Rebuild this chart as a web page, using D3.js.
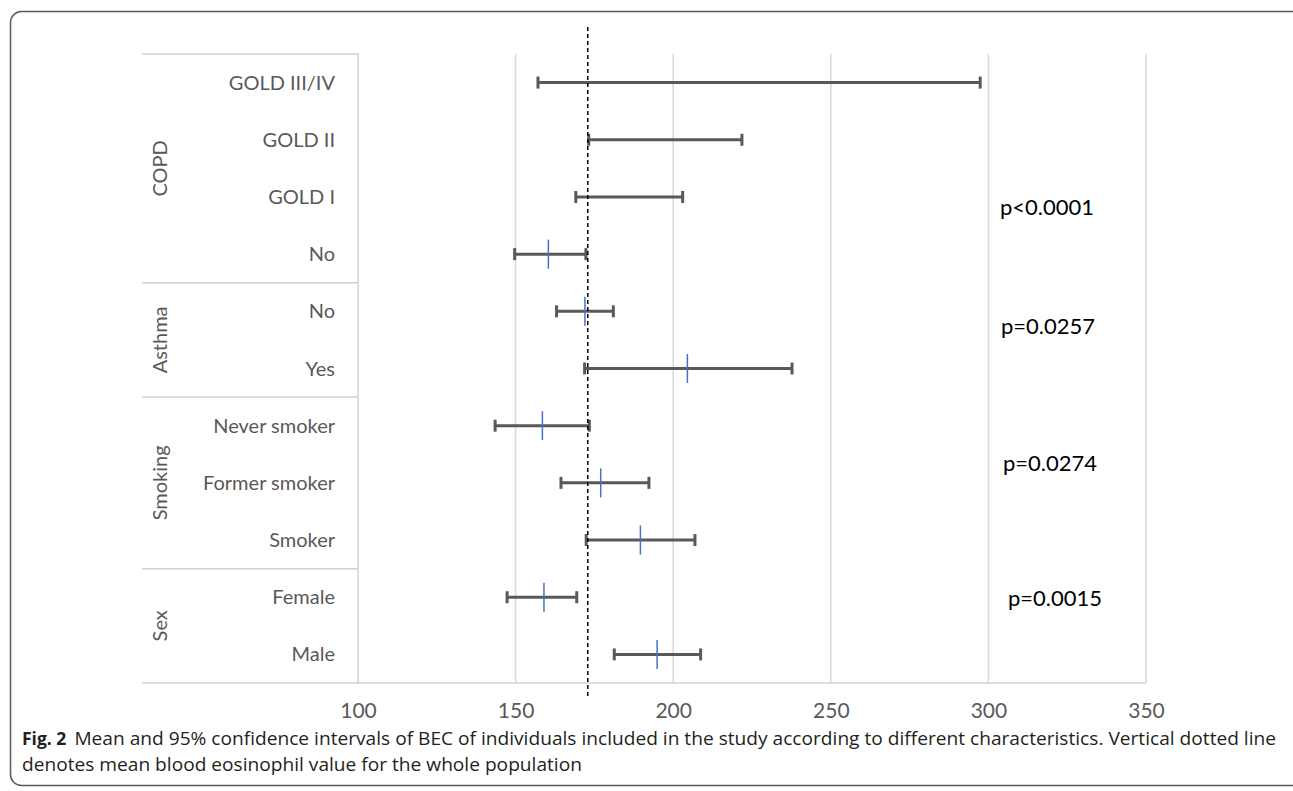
<!DOCTYPE html>
<html>
<head>
<meta charset="utf-8">
<script src="https://cdn.jsdelivr.net/npm/d3@7"></script>
<style>
  body { margin: 0; background: #fff; }
  svg { display: block; }
</style>
</head>
<body>
<svg id="grafico" width="1293" height="791"></svg>
<script>
// Dados (IC 95% e média de eosinófilos por característica)
const categorias = ["GOLD III/IV", "GOLD II", "GOLD I", "No", "No", "Yes", "Never smoker", "Former smoker", "Smoker", "Female", "Male"];
const grupoDaCategoria = ["COPD", "COPD", "COPD", "COPD", "Asthma", "Asthma", "Smoking", "Smoking", "Smoking", "Sex", "Sex"];
const grupos = ["COPD", "Asthma", "Smoking", "Sex"];
const limiteInferior = [157.1, 173.2, 169.1, 149.7, 163.0, 171.9, 143.5, 164.4, 172.4, 147.3, 181.3];
const limiteSuperior = [297.4, 221.8, 203.0, 172.3, 181.0, 237.7, 173.4, 192.3, 206.9, 169.4, 208.7];
const media = [null, null, null, 160.4, 172.0, 204.5, 158.5, 177.0, 189.6, 159.0, 194.9];
const mediaGeral = 172.9;
const pValores = ["p<0.0001", "p=0.0257", "p=0.0274", "p=0.0015"];
const ticksX = [100, 150, 200, 250, 300, 350];

const legenda1 = "Mean and 95% confidence intervals of BEC of individuals included in the study according to different characteristics. Vertical dotted line";
const legenda2 = "denotes mean blood eosinophil value for the whole population";

const svg = d3.select("#grafico");
const fonte = "Lato, 'Open Sans', sans-serif";
const cinzaTexto = "#595959";

// moldura arredondada da figura
svg.append("rect")
  .attr("x", 10.5).attr("y", 11.5)
  .attr("width", 1292).attr("height", 774)
  .attr("rx", 11)
  .attr("fill", "none")
  .attr("stroke", "#5a5a5a")
  .attr("stroke-width", 1.5);

const topo = 54, base = 683;
const esqRotulos = 142;

const x = d3.scaleLinear().domain([100, 350]).range([358, 1146]);
const linhas = categorias.map((c, i) => `${grupoDaCategoria[i]}|${c}`);
const y = d3.scaleBand().domain(linhas).range([topo, base]).padding(0);

const dados = categorias.map((c, i) => ({
  chave: linhas[i],
  rotulo: c,
  lo: limiteInferior[i],
  hi: limiteSuperior[i],
  media: media[i]
}));

const g = svg.append("g");

// grade vertical
g.selectAll("line.grade")
  .data(ticksX.slice(1))
  .join("line")
  .attr("class", "grade")
  .attr("x1", (d) => x(d)).attr("x2", (d) => x(d))
  .attr("y1", topo).attr("y2", base)
  .attr("stroke", "#d9d9d9")
  .attr("stroke-width", 1.5);

// eixo de categorias: linha vertical, topo, separadores de grupo e base
g.append("line")
  .attr("x1", x(100)).attr("x2", x(100))
  .attr("y1", topo - 1).attr("y2", base)
  .attr("stroke", "#d0d0d0").attr("stroke-width", 1.5);

const limitesGrupo = [topo];
grupos.forEach((gr) => {
  const ult = linhas.filter((l) => l.startsWith(gr + "|")).pop();
  limitesGrupo.push(y(ult) + y.bandwidth());
});

g.selectAll("line.sep")
  .data(limitesGrupo.slice(0, -1))
  .join("line")
  .attr("class", "sep")
  .attr("x1", esqRotulos).attr("x2", x(100))
  .attr("y1", (d) => d).attr("y2", (d) => d)
  .attr("stroke", "#d0d0d0").attr("stroke-width", 1.5);

g.append("line")
  .attr("x1", esqRotulos).attr("x2", x(350))
  .attr("y1", base).attr("y2", base)
  .attr("stroke", "#d0d0d0").attr("stroke-width", 1.5);

// rótulos das categorias
g.selectAll("text.cat")
  .data(dados)
  .join("text")
  .attr("class", "cat")
  .attr("x", 335)
  .attr("y", (d) => y(d.chave) + y.bandwidth() / 2)
  .attr("dy", "0.35em")
  .attr("text-anchor", "end")
  .attr("font-family", fonte)
  .attr("font-size", "20px")
  .attr("fill", cinzaTexto)
  .text((d) => d.rotulo);

// rótulos dos grupos, girados
g.selectAll("text.grupo")
  .data(grupos)
  .join("text")
  .attr("class", "grupo")
  .attr("transform", (d, i) => `translate(160,${(limitesGrupo[i] + limitesGrupo[i + 1]) / 2}) rotate(-90)`)
  .attr("dy", "0.35em")
  .attr("text-anchor", "middle")
  .attr("font-family", fonte)
  .attr("font-size", "20px")
  .attr("fill", cinzaTexto)
  .text((d) => d);

// eixo x
g.append("g")
  .attr("transform", `translate(0,${base})`)
  .call(d3.axisBottom(x).tickValues(ticksX).tickSize(0).tickPadding(20))
  .call((sel) => sel.select(".domain").remove())
  .call((sel) => sel.selectAll("text")
    .attr("fill", cinzaTexto)
    .attr("font-family", fonte)
    .attr("font-size", "21px"));

// barras de erro
const cy = (d) => y(d.chave) + y.bandwidth() / 2;
const corBarra = "#595959";

g.selectAll("line.ic")
  .data(dados)
  .join("line")
  .attr("class", "ic")
  .attr("x1", (d) => x(d.lo)).attr("x2", (d) => x(d.hi))
  .attr("y1", cy).attr("y2", cy)
  .attr("stroke", corBarra).attr("stroke-width", 3);

["lo", "hi"].forEach((lado) => {
  g.selectAll(`line.cap-${lado}`)
    .data(dados)
    .join("line")
    .attr("class", `cap-${lado}`)
    .attr("x1", (d) => x(d[lado])).attr("x2", (d) => x(d[lado]))
    .attr("y1", (d) => cy(d) - 6).attr("y2", (d) => cy(d) + 6)
    .attr("stroke", corBarra).attr("stroke-width", 3);
});

g.selectAll("line.media")
  .data(dados.filter((d) => d.media != null))
  .join("line")
  .attr("class", "media")
  .attr("x1", (d) => x(d.media)).attr("x2", (d) => x(d.media))
  .attr("y1", (d) => cy(d) - 14.5).attr("y2", (d) => cy(d) + 14.5)
  .attr("stroke", "#4472c4").attr("stroke-width", 1.5);

// linha tracejada da média geral
g.append("line")
  .attr("x1", x(mediaGeral)).attr("x2", x(mediaGeral))
  .attr("y1", 27).attr("y2", 696)
  .attr("stroke", "#000")
  .attr("stroke-width", 1.5)
  .attr("stroke-dasharray", "4,3");

// valores de p (caixas de texto soltas, posições como no original)
const posP = [[1000, 207], [1001, 326], [1003, 463], [1008, 598]];
g.selectAll("text.p")
  .data(pValores)
  .join("text")
  .attr("class", "p")
  .attr("x", (d, i) => posP[i][0])
  .attr("y", (d, i) => posP[i][1])
  .attr("dy", "0.35em")
  .attr("font-family", fonte)
  .attr("font-size", "22px")
  .attr("fill", "#000")
  .text((d) => d);

// legenda da figura
const corLegenda = "#231f20";
const t1 = svg.append("text")
  .attr("x", 22).attr("y", 745)
  .attr("font-family", "'Open Sans', sans-serif")
  .attr("font-size", "17.5px")
  .attr("fill", corLegenda);
const negrito = t1.append("tspan").attr("font-weight", "700").text("Fig. 2");
const resto1 = t1.append("tspan").attr("dx", 8).text(legenda1);

const t2 = svg.append("text")
  .attr("x", 22).attr("y", 771)
  .attr("font-family", "'Open Sans', sans-serif")
  .attr("font-size", "17.5px")
  .attr("fill", corLegenda)
  .text(legenda2);

// a fonte original é mais estreita; comprime para a largura medida
const larguraNeg = negrito.node().getComputedTextLength();
const natural1 = resto1.node().getComputedTextLength();
const alvo1 = 1276 - (22 + larguraNeg + 8);
const razao = alvo1 / natural1;
resto1.attr("textLength", alvo1).attr("lengthAdjust", "spacingAndGlyphs");
t2.attr("textLength", t2.node().getComputedTextLength() * razao).attr("lengthAdjust", "spacingAndGlyphs");
</script>
</body>
</html>
